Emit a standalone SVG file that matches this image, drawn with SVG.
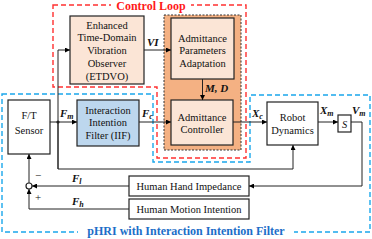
<svg xmlns="http://www.w3.org/2000/svg" width="372" height="239" viewBox="0 0 372 239">
<defs>
<marker id="ah" viewBox="0 0 10 10" refX="10" refY="5" markerWidth="5" markerHeight="5" orient="auto" markerUnits="userSpaceOnUse"><path d="M0,0 L10,5 L0,10 z" fill="#000"/></marker>
<style>
.t{font-family:"Liberation Serif","Times New Roman",serif;font-size:10.5px;fill:#111;text-anchor:middle}
.box{stroke:#222;stroke-width:1.2}
.peach{fill:#FBE5D6}
.white{fill:#fff}
.lbl{font-family:"Liberation Serif","Times New Roman",serif;font-size:11px;font-weight:bold;font-style:italic;fill:#111}
.sub{font-size:8px}
.ln{fill:none;stroke:#222;stroke-width:1}
</style>
</defs>
<rect width="372" height="239" fill="#fff"/>
<g id="control-loop">
<path d="M53,5 H246 V158 H157 V87 H53 Z" fill="none" stroke="#FF3030" stroke-width="1.4" stroke-dasharray="5 3"/>
<rect x="111" y="0" width="80" height="12" fill="#fff"/>
<text x="151" y="10" font-family="Liberation Serif, Times New Roman, serif" font-size="12" font-weight="bold" fill="#FF1A1A" text-anchor="middle">Control Loop</text>
</g>
<g id="phri">
<path d="M2,94 H153 V162 H250 V95 H370 V232 H2 Z" fill="none" stroke="#1AA7EC" stroke-width="1.4" stroke-dasharray="5 3"/>
<rect x="78" y="225" width="216" height="13" fill="#fff"/>
<text x="186" y="235" font-family="Liberation Serif, Times New Roman, serif" font-size="12" font-weight="bold" fill="#1C6EC8" text-anchor="middle">pHRI with Interaction Intention Filter</text>
</g>
<g id="admittance-group">
<rect x="164" y="15" width="77" height="135" fill="#F4B183" stroke="#333" stroke-width="1" stroke-dasharray="2 1.5"/>
</g>
<g id="etdvo">
<rect class="box peach" x="70" y="16" width="74" height="68"/>
<text class="t" x="107" y="28.5">Enhanced</text>
<text class="t" x="107" y="41.3">Time-Domain</text>
<text class="t" x="107" y="54.1">Vibration</text>
<text class="t" x="107" y="66.9">Observer</text>
<text class="t" x="107" y="79.7">(ETDVO)</text>
</g>
<g id="apa">
<rect class="box peach" x="171" y="18" width="63" height="61"/>
<text class="t" x="202.5" y="41.5">Admittance</text>
<text class="t" x="202.5" y="54.3">Parameters</text>
<text class="t" x="202.5" y="67.1">Adaptation</text>
</g>
<g id="controller">
<rect class="box peach" x="171" y="100" width="62" height="45"/>
<text class="t" x="202" y="120.5">Admittance</text>
<text class="t" x="202" y="133.3">Controller</text>
</g>
<g id="ft-sensor">
<rect class="box white" x="8" y="100" width="42" height="54"/>
<text class="t" x="29" y="118.5">F/T</text>
<text class="t" x="29" y="133.5">Sensor</text>
</g>
<g id="iif">
<rect class="box" fill="#BDD7EE" x="77" y="100" width="62" height="46"/>
<text class="t" x="108" y="113.5">Interaction</text>
<text class="t" x="108" y="126.3">Intention</text>
<text class="t" x="108" y="139.1">Filter (IIF)</text>
</g>
<g id="robot">
<rect class="box white" x="267" y="102" width="51" height="43"/>
<text class="t" x="292.5" y="120.5">Robot</text>
<text class="t" x="292.5" y="133.5">Dynamics</text>
</g>
<g id="integrator">
<rect class="box white" x="338" y="115" width="13" height="17"/>
<text class="t" x="344.5" y="127.5" font-style="italic">S</text>
</g>
<g id="hhi">
<rect class="box white" x="129" y="176" width="120" height="20"/>
<text class="t" x="189" y="189.5">Human Hand Impedance</text>
</g>
<g id="hmi">
<rect class="box white" x="129" y="199" width="120" height="20"/>
<text class="t" x="189" y="212.5">Human Motion Intention</text>
</g>
<g id="sum">
<circle cx="29" cy="186" r="3" fill="#fff" stroke="#222" stroke-width="1.2"/>
</g>
<g id="connectors">
<path class="ln" d="M50,122 H77" marker-end="url(#ah)"/>
<path class="ln" d="M58,169 V50 H70" marker-end="url(#ah)"/>
<path class="ln" d="M58,122 V169 H293 V145" marker-end="url(#ah)"/>
<circle cx="58" cy="122" r="1.6" fill="#222"/>
<path class="ln" d="M144,50 H171" marker-end="url(#ah)"/>
<path class="ln" d="M202.5,79 V100" marker-end="url(#ah)"/>
<path class="ln" d="M139,122 H171" marker-end="url(#ah)"/>
<path class="ln" d="M233,122 H267" marker-end="url(#ah)"/>
<path class="ln" d="M318,122 H338" marker-end="url(#ah)"/>
<path class="ln" d="M351,122 H362 V186 H249" marker-end="url(#ah)"/>
<path class="ln" d="M129,186 H32" marker-end="url(#ah)"/>
<path class="ln" d="M129,209 H29 V189" marker-end="url(#ah)"/>
<path class="ln" d="M29,183 V154" marker-end="url(#ah)"/>
</g>
<g id="labels">
<text class="lbl" x="60" y="117">F<tspan class="sub" dy="2">m</tspan></text>
<text class="lbl" x="142" y="117">F<tspan class="sub" dy="2">c</tspan></text>
<text class="lbl" x="147" y="46">VI</text>
<text class="lbl" x="205" y="92">M, D</text>
<text class="lbl" x="252" y="117">X<tspan class="sub" dy="2">c</tspan></text>
<text class="lbl" x="320" y="114">X<tspan class="sub" dy="2">m</tspan></text>
<text class="lbl" x="352" y="114">V<tspan class="sub" dy="2">m</tspan></text>
<text class="lbl" x="72" y="182">F<tspan class="sub" dy="2">l</tspan></text>
<text class="lbl" x="72" y="205">F<tspan class="sub" dy="2">h</tspan></text>
<text x="38" y="179" font-family="Liberation Serif, serif" font-size="11" fill="#111" text-anchor="middle">−</text>
<text x="38" y="201" font-family="Liberation Serif, serif" font-size="11" fill="#111" text-anchor="middle">+</text>
</g>
</svg>
